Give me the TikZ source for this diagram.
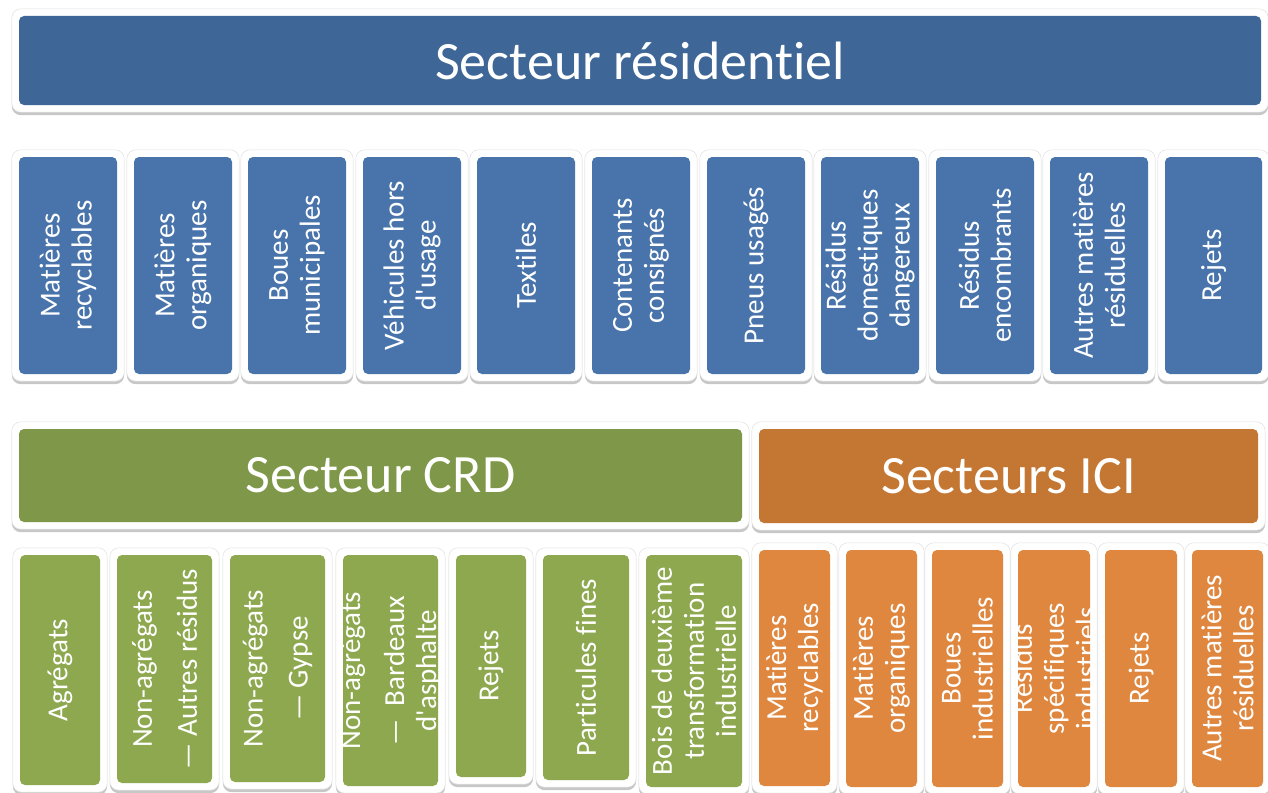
\documentclass[tikz,border=0pt]{standalone}
\usepackage{fontspec}
\setmainfont{Carlito}[Ligatures={NoCommon}]
\usetikzlibrary{positioning, fit, backgrounds, shadows}
\definecolor{resdark}{HTML}{3E6696}
\definecolor{reslight}{HTML}{4874AB}
\definecolor{crddark}{HTML}{7F9748}
\definecolor{crdlight}{HTML}{8DA84E}
\definecolor{icidark}{HTML}{C47733}
\definecolor{icilight}{HTML}{DF873F}
% name, x1, y1, x2, y2, fill style, text style, text
\newcommand{\wastebox}[8]{%
  \node[#6, minimum width={(#4-#2)*1pt}, minimum height={(#5-#3)*1pt}]
    (#1) at ({(#2+#4)/2},{(#3+#5)/2}) {};
  \begin{scope}[on background layer]
    \node[frame, fit=(#1)] (#1f) {};
  \end{scope}
  \node[#7] (#1t) at (#1.center) {#8};
}

\begin{document}
\begin{tikzpicture}[
  x=1pt, y=-1pt,
  tilebox/.style={fill=#1, draw=none, rounded corners=5pt, inner sep=0pt},
  frame/.style={
    fill=white, draw=black!12, line width=0.5pt, rounded corners=9pt,
    inner sep=7pt,
    drop shadow={shadow xshift=0pt, shadow yshift=-3pt, opacity=0.4, fill=black!55}},
  hdr/.style={text=white, inner sep=0pt, font=\fontsize{54}{60}\selectfont},
  lbl/.style={rotate=90, text=white, align=center, inner sep=0pt,
    font=\fontsize{29}{32}\selectfont},
]
  \useasboundingbox (0,0) rectangle (1268,792);

  % Secteur résidentiel
  \wastebox{res}{19}{16}{1261}{105}{tilebox=resdark}{hdr}{Secteur résidentiel}
  \wastebox{res1}{19}{157}{117}{374}{tilebox=reslight}{lbl}{Matières\\recyclables}
  \wastebox{res2}{134}{157}{232}{374}{tilebox=reslight}{lbl}{Matières\\organiques}
  \wastebox{res3}{248}{157}{346}{374}{tilebox=reslight}{lbl}{Boues\\municipales}
  \wastebox{res4}{363}{157}{461}{374}{tilebox=reslight}{lbl}{Véhicules hors\\d\textquotesingle usage}
  \wastebox{res5}{477}{157}{575}{374}{tilebox=reslight}{lbl}{Textiles}
  \wastebox{res6}{592}{157}{690}{374}{tilebox=reslight}{lbl}{Contenants\\consignés}
  \wastebox{res7}{707}{157}{805}{374}{tilebox=reslight}{lbl}{Pneus usagés}
  \wastebox{res8}{821}{157}{919}{374}{tilebox=reslight}{lbl}{Résidus\\domestiques\\dangereux}
  \wastebox{res9}{936}{157}{1034}{374}{tilebox=reslight}{lbl}{Résidus\\encombrants}
  \wastebox{res10}{1050}{157}{1148}{374}{tilebox=reslight}{lbl}{Autres matières\\résiduelles}
  \wastebox{res11}{1165}{157}{1262}{374}{tilebox=reslight}{lbl}{Rejets}

  % Secteur CRD
  \wastebox{crd}{19}{429}{742}{522}{tilebox=crddark}{hdr}{Secteur CRD}
  \wastebox{crd1}{20}{555}{100}{785}{tilebox=crdlight}{lbl}{Agrégats}
  \wastebox{crd2}{117}{555}{212}{783}{tilebox=crdlight}{lbl}{Non-agrégats\\[13pt]— Autres résidus}
  \wastebox{crd3}{230}{555}{325}{782}{tilebox=crdlight}{lbl}{Non-agrégats\\[13pt]— Gypse}
  \wastebox{crd4}{343}{555}{438}{786}{tilebox=crdlight}{lbl}{Non-agrégats\\[12pt]—\ \ Bardeaux\\d\textquotesingle asphalte}
  \wastebox{crd5}{456}{555}{526}{777}{tilebox=crdlight}{lbl}{Rejets}
  \wastebox{crd6}{543}{555}{629}{780}{tilebox=crdlight}{lbl}{Particules fines}
  \wastebox{crd7}{646}{555}{742}{787}{tilebox=crdlight}{lbl}{Bois de deuxième\\transformation\\industrielle}

  % Secteurs ICI
  \wastebox{ici}{759}{429}{1258}{523}{tilebox=icidark}{hdr}{Secteurs ICI}
  \wastebox{ici1}{759}{550}{830}{786}{tilebox=icilight}{lbl}{Matières\\recyclables}
  \wastebox{ici2}{846}{550}{917}{787}{tilebox=icilight}{lbl}{Matières\\organiques}
  \wastebox{ici3}{932}{550}{1003}{787}{tilebox=icilight}{lbl}{Boues\\industrielles}
  \wastebox{ici4}{1018}{550}{1090}{787}{tilebox=icilight}{lbl}{Résidus\\spécifiques\\industriels}
  \wastebox{ici5}{1105}{550}{1177}{787}{tilebox=icilight}{lbl}{Rejets}
  \wastebox{ici6}{1192}{550}{1263}{787}{tilebox=icilight}{lbl}{Autres matières\\résiduelles}
\end{tikzpicture}
\end{document}
